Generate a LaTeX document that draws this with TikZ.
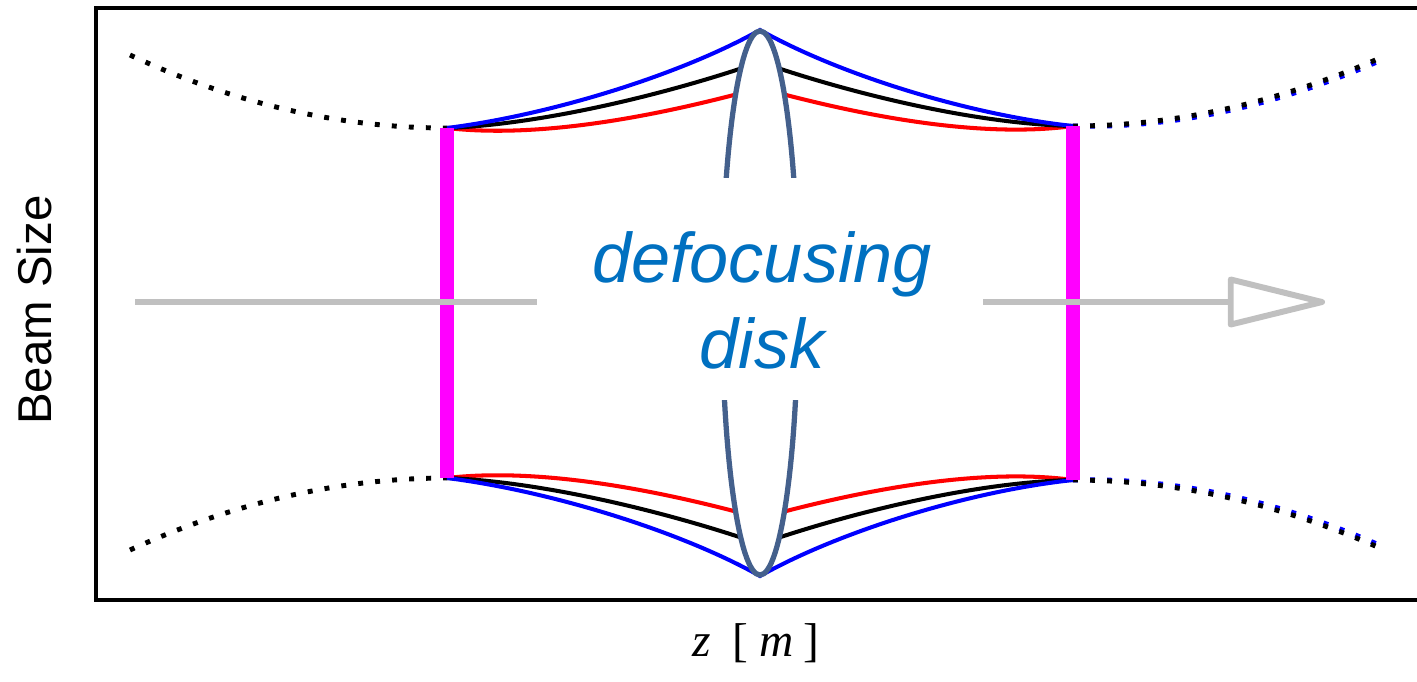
\documentclass[tikz,border=0pt]{standalone}
\usepackage{fontspec}
\setmainfont{Liberation Serif}
\newfontfamily\arialfont{Liberation Sans}
\usetikzlibrary{arrows.meta, positioning}
\definecolor{lensblue}{RGB}{68,96,140}
\definecolor{labelblue}{RGB}{0,112,192}
\definecolor{beamgray}{RGB}{192,192,192}
\definecolor{apermagenta}{RGB}{255,0,255}

\begin{document}
\begin{tikzpicture}[x=0.02cm, y=-0.02cm,
    envelope/.style={line width=2.3pt},
    drift/.style={line width=2.8pt, dash pattern=on 2.8pt off 6.9pt},
    aperture/.style={apermagenta, line width=7.5pt},
    beamaxis/.style={beamgray, line width=3.4pt, -{Triangle[open, length=61pt, width=29pt, round]}},
    lens/.style={lensblue, line width=3pt, fill=white}]
    \useasboundingbox (0,0) rectangle (1417,681);

    % frame
    \draw[line width=2.8pt] (1417,8) -- (96,8) -- (96,600) -- (1417,600);

    \coordinate (ul) at (447,128); \coordinate (ur) at (1073,126);
    \coordinate (ll) at (447,478); \coordinate (lr) at (1073,480);

    % drift before and after
    \draw[drift] (130,55) .. controls (235,104) and (341,128) .. (ul);
    \draw[drift] (130,550) .. controls (235,502) and (341,478) .. (ll);
    \draw[drift, blue, yshift=-1.5] (ur) .. controls (1175,126) and (1277,103) .. (1380,58);
    \draw[drift, blue, yshift=1.5] (lr) .. controls (1175,480) and (1277,503) .. (1380,548);
    \draw[drift] (ur) .. controls (1175,126) and (1277,103) .. (1380,58);
    \draw[drift] (lr) .. controls (1175,480) and (1277,503) .. (1380,548);

    % beam envelopes
    \foreach \col/\peak/\ca/\cb [evaluate=\peak as \lp using int(606-\peak),
        evaluate=\ca as \la using int(606-\ca), evaluate=\cb as \lb using int(606-\cb)]
        in {red/88/140/110, black/62/124/90, blue/30/115/75} {
      \draw[envelope, \col] (ul) .. controls (550,\ca) and (680,\cb) .. (760,\peak)
        .. controls (840,\cb) and (970,\ca) .. (ur);
      \draw[envelope, \col] (ll) .. controls (550,\la) and (680,\lb) .. (760,\lp)
        .. controls (840,\lb) and (970,\la) .. (lr);
    }

    \draw[aperture] (ul) -- (ll);
    \draw[aperture] (ur) -- (lr);

    \coordinate (beamin) at (135,302);
    \coordinate (beamout) at (1325,302);
    \draw[beamaxis] (beamin) -- (beamout);

    \draw[lens] (760,303) ellipse (38 and 272);

    \node[fill=white, minimum width=8.92cm, minimum height=4.44cm, inner sep=0pt] (diskmask) at (760,289) {};
    \node[font=\arialfont\itshape\fontsize{40}{49}\selectfont, text=labelblue, align=center] (disklabel) at (762,300) {defocusing\\disk};

    \node[font=\arialfont\fontsize{27}{32}\selectfont, rotate=90] (sizelabel) at (35,310) {Beam Size};
    \node[font=\fontsize{27}{31}\selectfont] (zlabel) at (756,643) {\textit{z}\hspace{0.45em}[\hspace{0.25em}\textit{m}\hspace{0.2em}]};
\end{tikzpicture}
\end{document}
